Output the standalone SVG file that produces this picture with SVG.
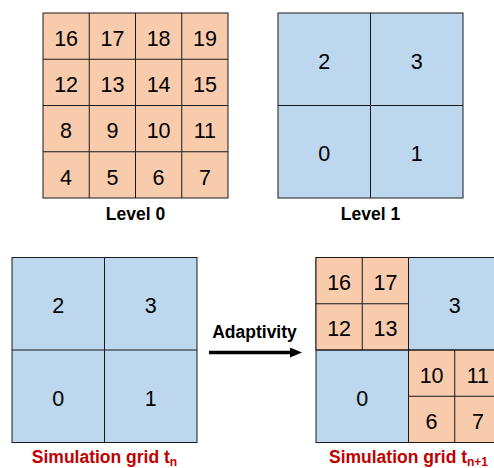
<svg xmlns="http://www.w3.org/2000/svg" width="494" height="468" viewBox="0 0 494 468">
<defs>
<style>
.o{fill:#f8cbad;stroke:#1a1a1a;stroke-width:1}
.b{fill:#bdd7ee;stroke:#1a1a1a;stroke-width:1}
.n{font-family:"Liberation Sans",Arial,sans-serif;font-size:21.5px;fill:#000;text-anchor:middle}
.l{font-family:"Liberation Sans",Arial,sans-serif;font-size:17.5px;font-weight:bold;fill:#000;text-anchor:middle}
.r{font-family:"Liberation Sans",Arial,sans-serif;font-size:17.5px;font-weight:bold;fill:#c00000;text-anchor:middle}
.s{font-size:12px}
</style>
<marker id="ah" markerWidth="12" markerHeight="10" refX="0" refY="5" orient="auto" markerUnits="userSpaceOnUse">
<path d="M0,0 L12,5 L0,10 Z" fill="#000"/>
</marker>
</defs>
<g id="level0">
<rect class="o" x="43" y="13" width="185" height="185"/>
<path d="M89.25,13V198M135.5,13V198M181.75,13V198M43,59.25H228M43,105.5H228M43,151.75H228" stroke="#1a1a1a" stroke-width="1" fill="none"/>
<text class="n" x="66.1" y="45.8">16</text><text class="n" x="112.4" y="45.8">17</text><text class="n" x="158.6" y="45.8">18</text><text class="n" x="204.9" y="45.8">19</text>
<text class="n" x="66.1" y="92.1">12</text><text class="n" x="112.4" y="92.1">13</text><text class="n" x="158.6" y="92.1">14</text><text class="n" x="204.9" y="92.1">15</text>
<text class="n" x="66.1" y="138.3">8</text><text class="n" x="112.4" y="138.3">9</text><text class="n" x="158.6" y="138.3">10</text><text class="n" x="204.9" y="138.3">11</text>
<text class="n" x="66.1" y="184.6">4</text><text class="n" x="112.4" y="184.6">5</text><text class="n" x="158.6" y="184.6">6</text><text class="n" x="204.9" y="184.6">7</text>
<text class="l" x="135.5" y="220">Level 0</text>
</g>
<g id="level1">
<rect class="b" x="278" y="13" width="185" height="185"/>
<path d="M370.5,13V198M278,105.5H463" stroke="#1a1a1a" stroke-width="1" fill="none"/>
<text class="n" x="324.3" y="68.5">2</text><text class="n" x="416.8" y="68.5">3</text>
<text class="n" x="324.3" y="161">0</text><text class="n" x="416.8" y="161">1</text>
<text class="l" x="370.5" y="220">Level 1</text>
</g>
<g id="grid_tn">
<rect class="b" x="12" y="257.5" width="185" height="185"/>
<path d="M104.5,257.5V442.5M12,350H197" stroke="#1a1a1a" stroke-width="1" fill="none"/>
<text class="n" x="58.3" y="313">2</text><text class="n" x="150.8" y="313">3</text>
<text class="n" x="58.3" y="405.5">0</text><text class="n" x="150.8" y="405.5">1</text>
<text class="r" x="104.5" y="463">Simulation grid t<tspan class="s" dy="3">n</tspan></text>
</g>
<g id="grid_tn1">
<rect class="b" x="316" y="257.5" width="185" height="185"/>
<rect class="o" x="316" y="257.5" width="92.5" height="92.5"/>
<rect class="o" x="408.5" y="350" width="92.5" height="92.5"/>
<path d="M362.25,257.5V350M316,303.75H408.5M454.75,350V442.5M408.5,396.25H501M408.5,257.5V442.5M316,350H501" stroke="#1a1a1a" stroke-width="1" fill="none"/>
<text class="n" x="339.1" y="290">16</text><text class="n" x="385.4" y="290">17</text>
<text class="n" x="339.1" y="336.2">12</text><text class="n" x="385.4" y="336.2">13</text>
<text class="n" x="454.8" y="313">3</text>
<text class="n" x="362.3" y="405.5">0</text>
<text class="n" x="431.6" y="382.5">10</text><text class="n" x="477.9" y="382.5">11</text>
<text class="n" x="431.6" y="428.7">6</text><text class="n" x="477.9" y="428.7">7</text>
<text class="r" x="408.5" y="463">Simulation grid t<tspan class="s" dy="3">n+1</tspan></text>
</g>
<g id="connectors">
<line x1="209" y1="352.5" x2="290" y2="352.5" stroke="#000" stroke-width="3.5" marker-end="url(#ah)"/>
<text class="l" x="254.5" y="337.5">Adaptivity</text>
</g>
</svg>
